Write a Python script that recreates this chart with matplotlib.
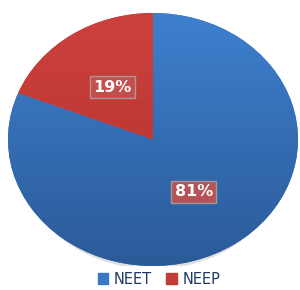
import matplotlib
matplotlib.use("Agg")
import matplotlib.pyplot as plt
import numpy as np
from matplotlib.colors import LinearSegmentedColormap
from matplotlib.patches import Ellipse

labels = ["NEET", "NEEP"]
shares = [81, 19]
colors = ["#3A78C4", "#C23B37"]
# top / bottom shades for the gradient fill
grad = [("#3E80CE", "#2B5A98"), ("#CC413D", "#B2302D")]

fig = plt.figure(figsize=(3.0, 2.9), dpi=100)
ax = fig.add_axes([8 / 300, 24 / 290, 290 / 300, 253 / 290])

# soft shadow below the pie
ax.add_patch(Ellipse((0, -0.025), 1.94, 2.0, facecolor="#000000", alpha=0.12,
                     edgecolor="none", zorder=0))

wedges, texts, autotexts = ax.pie(
    shares, colors=colors, startangle=90, counterclock=False,
    autopct="%d%%", pctdistance=0.5, radius=1.0,
    wedgeprops=dict(linewidth=0),
    textprops=dict(color="white", fontsize=11.5, fontweight="bold"))

yy = np.linspace(1, -1, 256).reshape(-1, 1)
for w, (top, bot) in zip(wedges, grad):
    cmap = LinearSegmentedColormap.from_list("g", [bot, top])
    im = ax.imshow(yy, cmap=cmap, extent=[-1, 1, -1, 1], vmin=-1, vmax=1,
                   interpolation="bilinear", zorder=w.get_zorder() + 0.1)
    im.set_clip_path(w)

for t in autotexts:
    t.set_zorder(5)
    t.set_bbox(dict(boxstyle="square,pad=0.2", facecolor="#C4524F",
                    edgecolor="#A8A0A0", linewidth=1.0, alpha=0.9))

ax.set_xlim(-1.0, 1.0)
ax.set_ylim(-1.0, 1.0)
ax.set_aspect("auto")
ax.axis("off")

handles = [plt.Rectangle((0, 0), 1, 1, color=c) for c in colors]
leg = fig.legend(handles, labels, loc="center", bbox_to_anchor=(0.53, 11 / 290),
                 ncol=2, frameon=False, fontsize=10.5, handlelength=0.7,
                 handleheight=0.7, handletextpad=0.4, columnspacing=1.0)
for t in leg.get_texts():
    t.set_color("#1F3864")

fig.savefig("out.png", dpi=100, facecolor="white")
